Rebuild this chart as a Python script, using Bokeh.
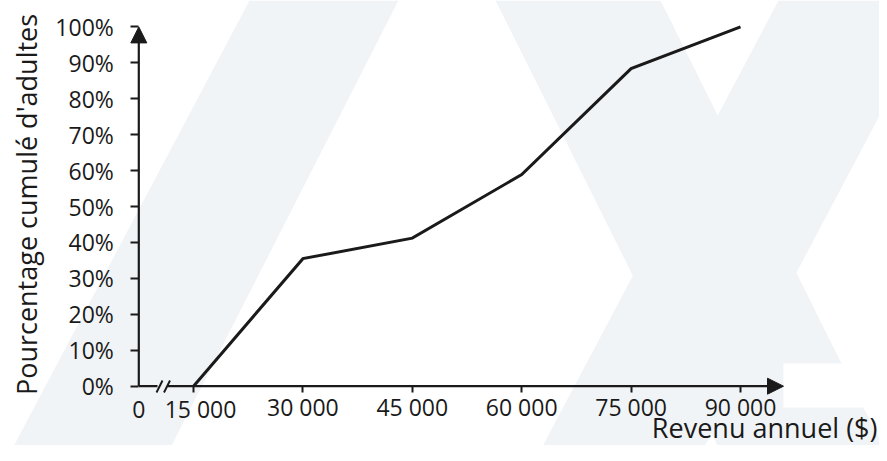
import math
from bokeh.plotting import figure
from bokeh.models import (FixedTicker, Arrow, NormalHead, Label, PolyAnnotation,
                          BoxAnnotation, Range1d, LinearAxis)
from bokeh.embed import file_html
from bokeh.resources import INLINE

# ---- data ----
incomes = [15000, 30000, 45000, 60000, 75000, 90000]
cumulative_pct = [0, 35.5, 41.2, 58.9, 88.4, 100]
x_tick_values = [15000, 30000, 45000, 60000, 75000, 90000]
x_tick_labels = ["15 000", "30 000", "45 000", "60 000", "75 000", "90 000"]
x_origin_value = 7500          # position of the broken-axis origin
x_origin_label = "0"
y_tick_values = [0, 10, 20, 30, 40, 50, 60, 70, 80, 90, 100]
y_tick_labels = ["0%", "10%", "20%", "30%", "40%", "50%", "60%", "70%", "80%", "90%", "100%"]
x_title = "Revenu annuel ($)"
y_title = "Pourcentage cumulé d'adultes"

# ---- layout (frame fills the whole canvas, axes are fixed inside it) ----
W, H = 879, 445
PX_PER_STEP = 109.4          # pixels per 15 000
PX_PER_PCT = 3.593           # pixels per 1 %
ORIGIN_PX_X = 138.3
ORIGIN_PX_Y = 385.7
XS = x_origin_value - ORIGIN_PX_X * 15000 / PX_PER_STEP
XE = XS + W * 15000 / PX_PER_STEP
YE = ORIGIN_PX_Y / PX_PER_PCT
YS = -(H - ORIGIN_PX_Y) / PX_PER_PCT

INK = "#1a1a1a"
WM = "#f1f4f6"
FONT = "Open Sans"


def dx(ix):
    """canvas pixel x -> data x"""
    return XS + ix * 15000 / PX_PER_STEP


def dy(iy):
    """canvas pixel y -> data y"""
    return (ORIGIN_PX_Y - iy) / PX_PER_PCT


p = figure(width=W, height=H, output_backend="svg", toolbar_location=None,
           x_range=Range1d(XS, XE), y_range=Range1d(YS, YE), min_border=0)
p.outline_line_color = None
p.xgrid.grid_line_color = None
p.ygrid.grid_line_color = None
p.background_fill_color = "white"
p.border_fill_color = "white"

# ---- faint watermark ----
bands = [
    [(249, 0), (398, 0), (163, 461), (5, 461)],
    [(495, 0), (660, 0), (890, 461), (725, 461)],
    [(778, 0), (940, 0), (696, 461), (534, 461)],
]
for band in bands:
    p.add_layout(PolyAnnotation(xs=[dx(a) for a, b in band], ys=[dy(b) for a, b in band],
                                fill_color=WM, fill_alpha=1, line_color=None, level="underlay"))
p.add_layout(BoxAnnotation(left=dx(783), right=dx(895), bottom=dy(407), top=dy(363),
                           fill_color="white", fill_alpha=1, line_color=None, level="underlay"))

# ---- axes (ticks + labels) ----
# first label ("15 000") is nudged right of its tick to clear the axis break
label_pos = [x_origin_value, x_tick_values[0] + 7 * 15000 / PX_PER_STEP]
label_txt = [x_origin_label, x_tick_labels[0]]

xa = p.xaxis[0]
xa.fixed_location = 0
xa.ticker = FixedTicker(ticks=x_tick_values)
xa.major_label_overrides = dict(zip(x_tick_values, [""] + x_tick_labels[1:]))
xa.axis_line_color = None
xa.major_tick_in = 0
xa.major_tick_out = 6
xa.major_tick_line_width = 2
xa.major_tick_line_color = INK
xa.minor_tick_line_color = None
xa.major_label_text_font = FONT
xa.major_label_text_font_size = "23px"
xa.major_label_text_color = INK
xa.major_label_standoff = -1

x0a = LinearAxis(fixed_location=0, ticker=FixedTicker(ticks=label_pos),
                 major_label_overrides=dict(zip(label_pos, label_txt)),
                 axis_line_color=None, major_tick_line_color=None, minor_tick_line_color=None,
                 major_tick_in=0, major_tick_out=6, major_label_standoff=1,
                 major_label_text_font=FONT, major_label_text_font_size="23px",
                 major_label_text_color=INK)
p.add_layout(x0a, "below")

ya = p.yaxis[0]
ya.fixed_location = x_origin_value
ya.ticker = FixedTicker(ticks=y_tick_values)
ya.major_label_overrides = dict(zip(y_tick_values, y_tick_labels))
ya.axis_line_color = None
ya.major_tick_in = 0
ya.major_tick_out = 8
ya.major_tick_line_width = 2
ya.major_tick_line_color = INK
ya.minor_tick_line_color = None
ya.major_label_text_font = FONT
ya.major_label_text_font_size = "23px"
ya.major_label_text_color = INK
ya.major_label_standoff = 17

# ---- axis lines with arrows and break ----
p.add_layout(Arrow(x_start=x_origin_value, y_start=0, x_end=x_origin_value, y_end=100,
                   end=NormalHead(size=16, fill_color=INK, line_color=INK, line_width=1),
                   line_color=INK, line_width=2.2))
p.add_layout(Arrow(x_start=x_origin_value, y_start=0, x_end=dx(157), y_end=0, end=None, start=None,
                   line_color=INK, line_width=2.2))
p.add_layout(Arrow(x_start=dx(167), y_start=0, x_end=dx(783), y_end=0,
                   end=NormalHead(size=16, fill_color=INK, line_color=INK, line_width=1),
                   line_color=INK, line_width=2.2))
for cx in (159.0, 166.5):
    p.add_layout(Arrow(x_start=dx(cx - 3), y_start=dy(392), x_end=dx(cx + 3), y_end=dy(380),
                       end=None, start=None, line_color=INK, line_width=2))

# ---- data line ----
p.line(incomes, cumulative_pct, line_color=INK, line_width=3, line_join="miter")

# ---- axis titles ----
p.add_layout(Label(x=dx(877), y=dy(427), text=x_title, text_align="right",
                   text_baseline="alphabetic", text_font=FONT, text_font_size="27px",
                   text_color=INK))
p.add_layout(Label(x=dx(26), y=dy(204), text=y_title, text_align="center", angle=math.pi / 2,
                   text_baseline="alphabetic", text_font=FONT, text_font_size="27px",
                   text_color=INK))

open("out.html", "w").write(file_html(p, INLINE))
